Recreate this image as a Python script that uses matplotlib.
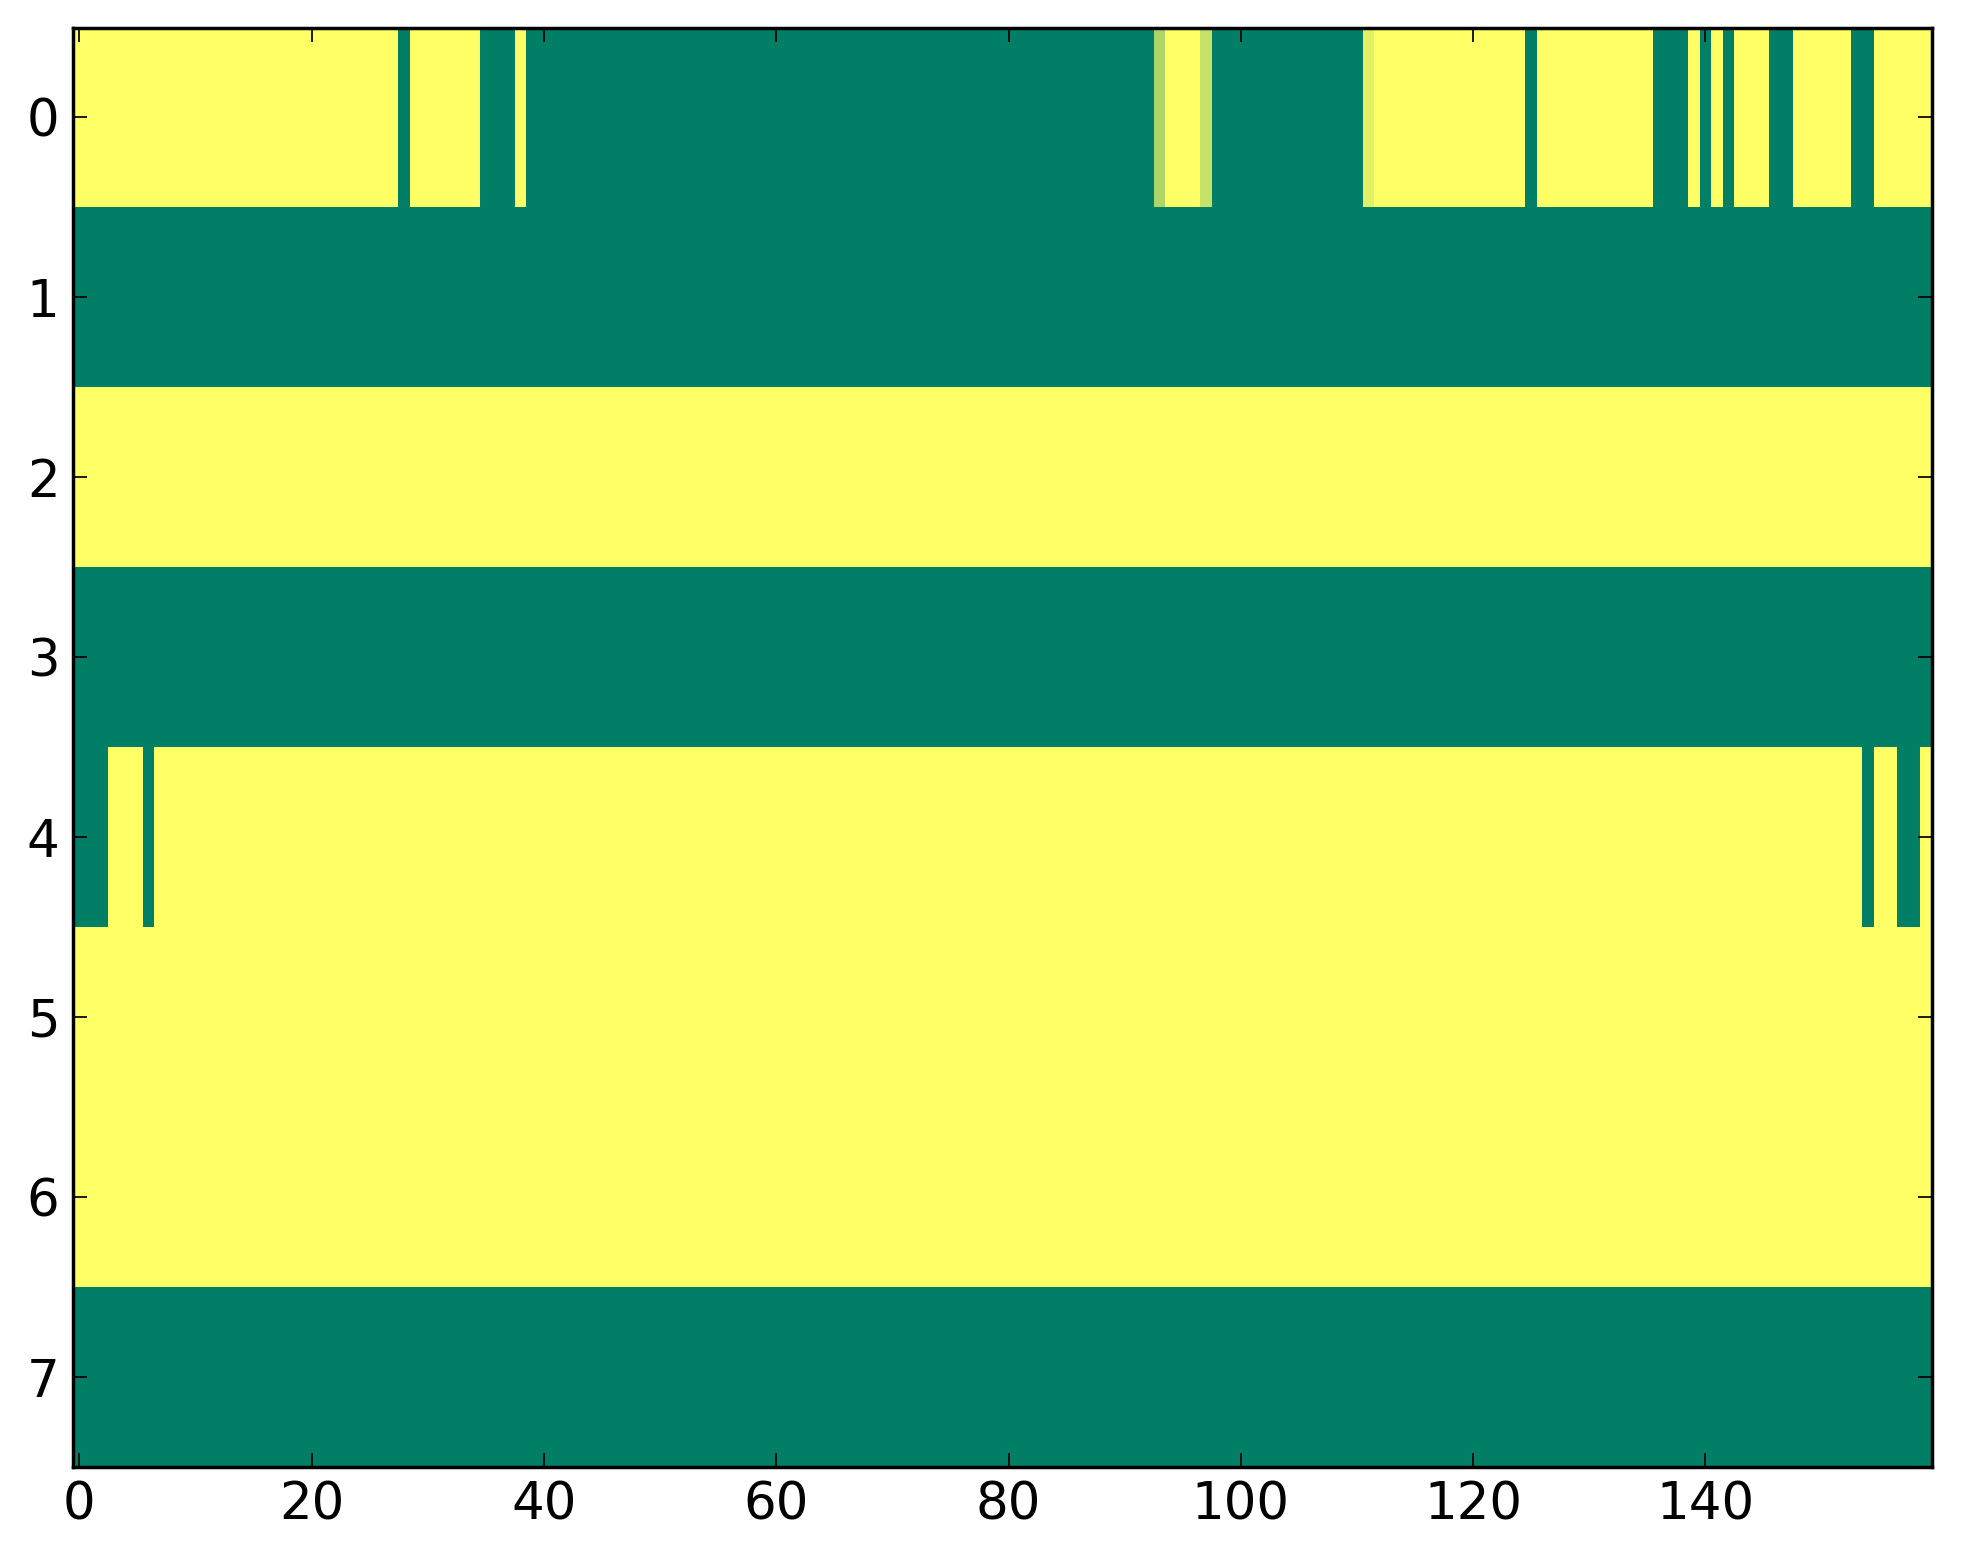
import numpy as np
import matplotlib
matplotlib.use("Agg")
import matplotlib.pyplot as plt

# each row is stored as (value, run length) pairs read left to right off the picture
row0_values = [1, 0, 1, 0, 1, 0, 0.68, 1, 0.77, 0, 0.89, 1, 0, 1, 0, 1, 0, 1, 0, 1, 0, 1, 0, 1]
row0_counts = [28, 1, 6, 3, 1, 54, 1, 3, 1, 13, 1, 13, 1, 10, 3, 1, 1, 1, 1, 3, 2, 5, 2, 5]
row4_values = [0, 1, 0, 1, 0, 1, 0, 1]
row4_counts = [3, 3, 1, 147, 1, 2, 2, 1]
solid_rows = {1: 0, 2: 1, 3: 0, 5: 1, 6: 1, 7: 0}
n_cols = 160
x_ticks = [0, 20, 40, 60, 80, 100, 120, 140]
y_ticks = [0, 1, 2, 3, 4, 5, 6, 7]

grid = np.zeros((8, n_cols))
grid[0] = np.repeat(row0_values, row0_counts)
grid[4] = np.repeat(row4_values, row4_counts)
for r, v in solid_rows.items():
    grid[r] = v

fig = plt.figure(figsize=(1963 / 250, 1564 / 250), dpi=250)
ax = fig.add_axes([0.0374, 0.062, 0.9468, 0.9204])
ax.imshow(grid, cmap="summer", vmin=0, vmax=1, aspect="auto", interpolation="nearest")

ax.set_xticks(x_ticks)
ax.set_yticks(y_ticks)
ax.tick_params(direction="in", length=4, width=0.5, labelsize=14.8, pad=4,
               top=True, right=True)
for s in ax.spines.values():
    s.set_linewidth(1.0)

fig.savefig("out.png", dpi=250, facecolor="white")
